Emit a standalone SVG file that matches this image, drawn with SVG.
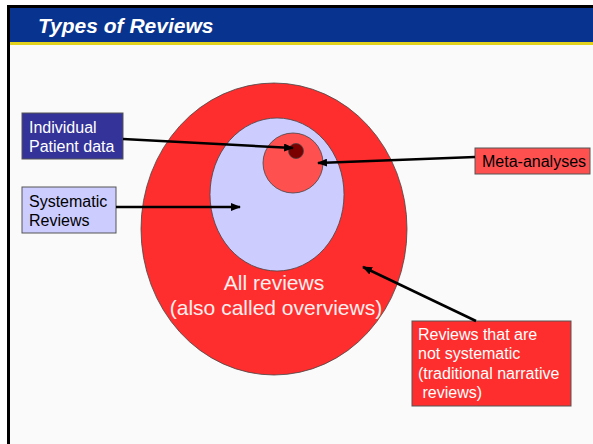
<svg xmlns="http://www.w3.org/2000/svg" width="593" height="444" viewBox="0 0 593 444">
  <style>
    .lbl { font-family: "Liberation Sans", Arial, sans-serif; font-size: 16px; white-space: pre; }
    .big { font-family: "Liberation Sans", Arial, sans-serif; font-size: 21px; fill: #ffeeee; text-anchor: middle; }
    .ring { stroke: #444; stroke-width: 0.8; }
    .box { stroke: #555; stroke-width: 1; }
    .conn { stroke: #000; stroke-width: 2.5; fill: none; marker-end: url(#head); }
  </style>
  <defs>
    <marker id="head" viewBox="0 0 10 8" refX="9" refY="4" markerWidth="4" markerHeight="3.2" orient="auto" markerUnits="strokeWidth">
      <path d="M0,0 L10,4 L0,8 z" fill="#000"/>
    </marker>
  </defs>

  <!-- slide frame -->
  <rect x="0" y="0" width="593" height="444" fill="#ffffff"/>
  <rect x="10" y="8" width="583" height="436" fill="#fafafa"/>
  <rect x="7" y="5" width="586" height="3" fill="#000"/>
  <rect x="7" y="5" width="3" height="439" fill="#000"/>
  <rect x="10" y="8" width="583" height="34" fill="#08338f"/>
  <rect x="10" y="42" width="583" height="3" fill="#e2d21e"/>
  <text x="38" y="33" font-family="Liberation Sans, Arial, sans-serif" font-size="21" font-weight="bold" font-style="italic" fill="#ffffff">Types of Reviews</text>

  <!-- nested sets -->
  <g id="all-reviews">
    <ellipse class="ring" cx="274" cy="229" rx="133" ry="146" fill="#ff2e2e"/>
  </g>
  <g id="systematic-set">
    <ellipse class="ring" cx="277" cy="194.5" rx="67" ry="76.5" fill="#ccccff"/>
  </g>
  <g id="meta-set">
    <circle class="ring" cx="293" cy="163" r="30" fill="#ff5050"/>
  </g>
  <g id="ipd-set">
    <circle class="ring" cx="296" cy="151" r="7.5" fill="#7a0000"/>
  </g>
  <g id="all-reviews-label">
    <text class="big" x="274" y="290">All reviews</text>
    <text class="big" x="276" y="315">(also called overviews)</text>
  </g>

  <!-- callout boxes -->
  <g id="ipd-box">
    <rect class="box" x="22" y="113" width="101" height="46" fill="#333399"/>
    <text class="lbl" x="29" y="133" fill="#ffffff">Individual</text>
    <text class="lbl" x="29" y="152" fill="#ffffff">Patient data</text>
  </g>
  <g id="systematic-box">
    <rect class="box" x="22" y="187" width="94" height="46" fill="#ccccff"/>
    <text class="lbl" x="29" y="207" fill="#000000">Systematic</text>
    <text class="lbl" x="29" y="226" fill="#000000">Reviews</text>
  </g>
  <g id="meta-box">
    <rect class="box" x="475" y="148" width="115" height="26" fill="#ff5050"/>
    <text class="lbl" x="482" y="167" fill="#000000">Meta-analyses</text>
  </g>
  <g id="narrative-box">
    <rect class="box" x="412" y="321" width="159" height="85" fill="#ff2e2e" stroke="#6a1a1a"/>
    <text class="lbl" x="418" y="340" fill="#ffffff">Reviews that are</text>
    <text class="lbl" x="418" y="359" fill="#ffffff">not systematic</text>
    <text class="lbl" x="418" y="379" fill="#ffffff">(traditional narrative</text>
    <text class="lbl" x="418" y="398" fill="#ffffff" xml:space="preserve"> reviews)</text>
  </g>

  <!-- connectors -->
  <g id="connectors">
    <line class="conn" x1="123" y1="139" x2="293" y2="148"/>
    <line class="conn" x1="116" y1="207" x2="240" y2="207"/>
    <line class="conn" x1="475" y1="157" x2="318" y2="163"/>
    <line class="conn" x1="476" y1="321" x2="363" y2="267"/>
  </g>
</svg>
